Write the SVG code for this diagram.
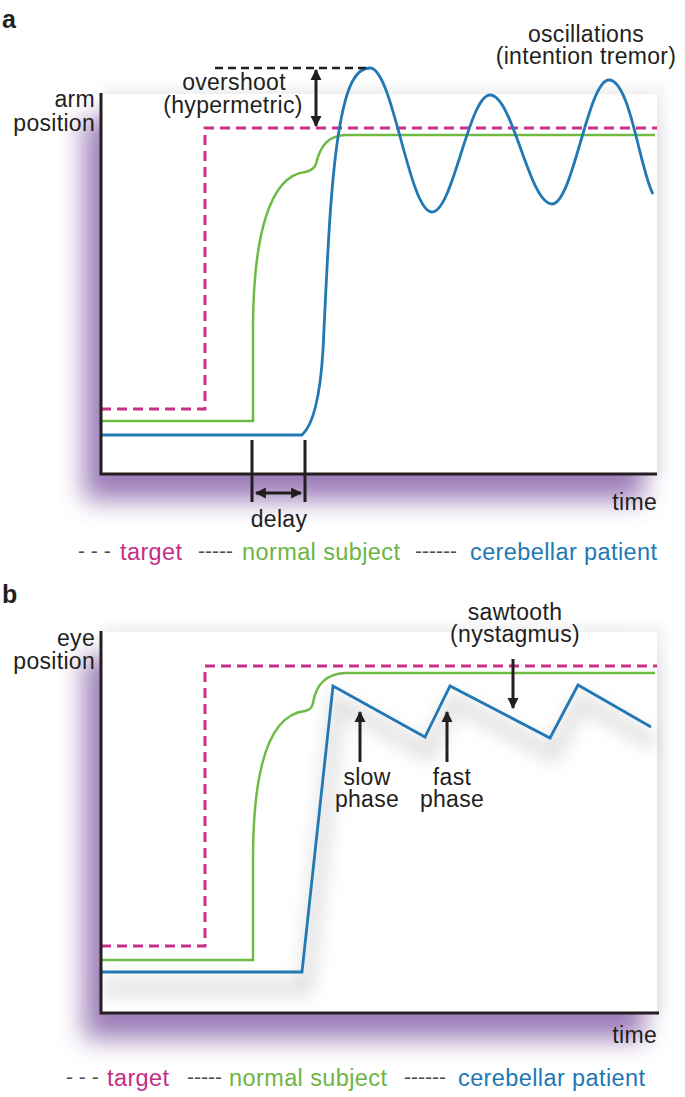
<svg xmlns="http://www.w3.org/2000/svg" width="685" height="1097" viewBox="0 0 685 1097">
<style>
text{font-family:"Liberation Sans",Arial,sans-serif;fill:#231f20;font-size:23px;letter-spacing:0.3px}
.panel{font-weight:bold;font-size:25px;letter-spacing:0}
.mid{text-anchor:middle}
.end{text-anchor:end}
.axis{stroke:#231f20;stroke-width:3;fill:none}
.target{stroke:#c8308c;stroke-width:3;fill:none;stroke-dasharray:10 6}
.normal{stroke:#6dbb45;stroke-width:2.5;fill:none}
.patient{stroke:#2278b5;stroke-width:2.8;fill:none}
.blk{stroke:#231f20;stroke-width:3;fill:none}
.leg{fill:#4d4d4d;font-size:21px;letter-spacing:0}
.lt{font-size:23.5px;letter-spacing:0.4px}
.tmag{fill:#c42e87}
.tgrn{fill:#6cb544}
.tblu{fill:#1d78b4}
</style>
<defs>
<filter id="glow" x="-30%" y="-30%" width="160%" height="160%"><feGaussianBlur stdDeviation="13"/></filter>
<filter id="soft" x="-30%" y="-30%" width="160%" height="160%"><feGaussianBlur stdDeviation="6"/></filter>
<filter id="softer" x="-30%" y="-30%" width="160%" height="160%"><feGaussianBlur stdDeviation="9"/></filter>
<marker id="ah" viewBox="0 0 10 10" refX="9" refY="5" markerWidth="11" markerHeight="14" markerUnits="userSpaceOnUse" orient="auto-start-reverse"><path d="M0,0 L10,5 L0,10 z" fill="#231f20"/></marker>
</defs>

<!-- Panel a -->
<g id="panel-a">
<text class="panel" x="2" y="28">a</text>
<rect x="103" y="86" width="562" height="388" fill="#000" opacity="0.05" filter="url(#soft)"/>
<rect x="84" y="118" width="560" height="382" fill="#8b66ac" opacity="0.85" filter="url(#glow)"/>
<rect x="101" y="94" width="556" height="380" fill="#fff"/>
</g>
<g id="curves-a">
<path class="target" d="M101,409 H205 V128 H657"/>
<path class="normal" d="M101,421 H253 V330 C253,235 270,176 305,172 C311,171 314,169 316,164 C320,146 328,136 345,135 H655"/>
<path class="patient" d="M101,435 H302 C313,425 320,400 323,350 C327,270 330,180 340,125 C347,85 356,68 370,68 C393,68 409,212 432,212 C453,212 469,95 490,95 C513,95 529,204 552,204 C573,204 588,80 609,80 C630,80 640,170 653,194"/>
</g>
<g id="axes-a">
<path class="axis" d="M101,93 V474 H657"/>
</g>
<g id="overshoot">
<path d="M215,68 H370" stroke="#231f20" stroke-width="2.5" stroke-dasharray="8 5" fill="none"/>
<path class="blk" d="M316,70 V126" marker-start="url(#ah)" marker-end="url(#ah)"/>
<text class="mid" x="234" y="90">overshoot</text>
<text class="mid" x="233" y="113">(hypermetric)</text>
</g>
<g id="oscillations-label">
<text class="mid" x="586" y="42">oscillations</text>
<text class="mid" x="586" y="64">(intention tremor)</text>
</g>
<g id="delay">
<path class="blk" d="M252,440 V502 M305,440 V502"/>
<path class="blk" d="M256,493 H301" marker-start="url(#ah)" marker-end="url(#ah)" stroke-width="2.5"/>
<text class="mid" x="279" y="527">delay</text>
</g>
<g id="labels-a">
<text class="end" x="95" y="107">arm</text>
<text class="end" x="95" y="131">position</text>
<text class="end" x="657" y="510">time</text>
</g>
<g id="legend-a">
<text class="leg" x="78" y="558">- - -</text>
<text class="tmag lt" x="120" y="560">target</text>
<text class="leg" x="198" y="558">-----</text>
<text class="tgrn lt" x="242" y="560">normal subject</text>
<text class="leg" x="415" y="558">------</text>
<text class="tblu lt" x="470" y="560">cerebellar patient</text>
</g>

<!-- Panel b -->
<g id="panel-b">
<text class="panel" x="2" y="603">b</text>
<rect x="103" y="624" width="562" height="389" fill="#000" opacity="0.05" filter="url(#soft)"/>
<rect x="84" y="656" width="560" height="383" fill="#8b66ac" opacity="0.85" filter="url(#glow)"/>
<rect x="101" y="632" width="556" height="381" fill="#fff"/>
</g>
<g id="shadow-b" opacity="0.22" filter="url(#softer)">
<path d="M101,988 H306 L337,702 L428,753 L453,702 L553,754 L581,701 L654,743" stroke="#666" stroke-width="14" fill="none"/>
</g>
<g id="curves-b">
<path class="target" d="M101,946 H205 V666 H657"/>
<path class="normal" d="M101,960 H253 V860 C253,770 268,715 305,711 C310,710 312,708 313,703 C316,685 325,674 345,673 H655"/>
<path class="patient" d="M101,972 H302 L333,686 L425,737 L450,686 L550,738 L578,685 L651,727"/>
</g>
<g id="axes-b">
<path class="axis" d="M101,631 V1013 H659"/>
</g>
<g id="sawtooth">
<path class="blk" d="M513,659 V708" marker-end="url(#ah)"/>
<text class="mid" x="515" y="620">sawtooth</text>
<text class="mid" x="515" y="642">(nystagmus)</text>
</g>
<g id="slow-phase">
<path class="blk" d="M360,762 V712" marker-end="url(#ah)"/>
<text class="mid" x="367" y="785">slow</text>
<text class="mid" x="367" y="807">phase</text>
</g>
<g id="fast-phase">
<path class="blk" d="M447,762 V712" marker-end="url(#ah)"/>
<text class="mid" x="452" y="785">fast</text>
<text class="mid" x="452" y="807">phase</text>
</g>
<g id="labels-b">
<text class="end" x="95" y="646">eye</text>
<text class="end" x="95" y="669">position</text>
<text class="end" x="657" y="1043">time</text>
</g>
<g id="legend-b">
<text class="leg" x="66" y="1084">- - -</text>
<text class="tmag lt" x="107" y="1086">target</text>
<text class="leg" x="187" y="1084">-----</text>
<text class="tgrn lt" x="229" y="1086">normal subject</text>
<text class="leg" x="404" y="1084">------</text>
<text class="tblu lt" x="458" y="1086">cerebellar patient</text>
</g>
</svg>
